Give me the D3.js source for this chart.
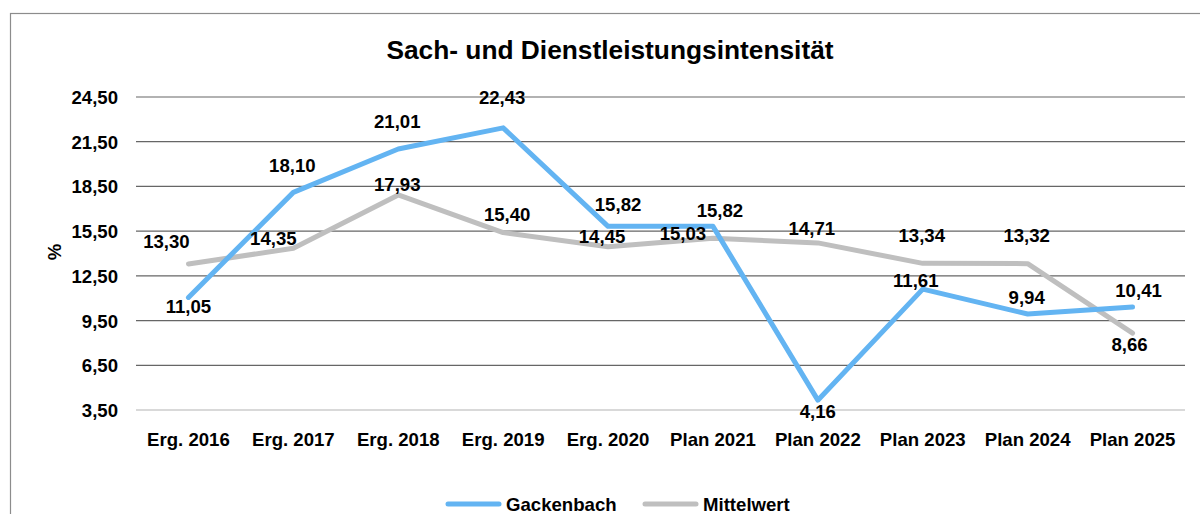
<!DOCTYPE html>
<html>
<head>
<meta charset="utf-8">
<script src="https://cdn.jsdelivr.net/npm/d3@7"></script>
<style>
  body { margin: 0; background: #fff; }
  svg { display: block; font-family: "Liberation Sans", Arial, sans-serif; }
</style>
</head>
<body>
<svg id="chart" width="1200" height="514"></svg>
<script>
const categories = ["Erg. 2016", "Erg. 2017", "Erg. 2018", "Erg. 2019", "Erg. 2020",
                    "Plan 2021", "Plan 2022", "Plan 2023", "Plan 2024", "Plan 2025"]
const gackenbach = [11.05, 18.10, 21.01, 22.43, 15.82, 15.82, 4.16, 11.61, 9.94, 10.41]
const mittelwert = [13.30, 14.35, 17.93, 15.40, 14.45, 15.03, 14.71, 13.34, 13.32, 8.66]
const yTicks = [3.5, 6.5, 9.5, 12.5, 15.5, 18.5, 21.5, 24.5]

// label nudges (px) so they sit like the excel placement
const gOff = [[0, 9], [-1, -27], [-1, -28], [-1, -30], [10, -22], [7, -16], [0, 11], [-7, -9], [-1, -17], [6, -17]]
const mOff = [[-22, -22], [-20, -10], [-1, -10], [4, -18], [-6, -10], [-30, -5], [-6, -14], [-1, -28], [-1, -28], [-3, 11]]

const fs = "18.6px"
const svg = d3.select("#chart")
const fmt = v => d3.format(".2f")(v).replace(".", ",")

const x = d3.scaleBand().domain(categories).range([136, 1185])
const y = d3.scaleLinear().domain([3.5, 24.5]).range([410, 97])
const cx = d => x(d) + x.bandwidth() / 2

// outer frame
svg.append("rect")
  .attr("x", 10.5).attr("y", 13.5).attr("width", 1200).attr("height", 520)
  .attr("fill", "none").attr("stroke", "#8c8c8c").attr("stroke-width", 1.2)

svg.append("text")
  .attr("x", 610).attr("y", 59)
  .attr("text-anchor", "middle")
  .style("font-size", "26.3px").style("font-weight", "bold")
  .text("Sach- und Dienstleistungsintensität")

// grid
svg.append("g").selectAll("line").data(yTicks).join("line")
  .attr("x1", 136).attr("x2", 1185)
  .attr("y1", d => y(d)).attr("y2", d => y(d))
  .attr("stroke", d => d === 3.5 ? "#d9d9d9" : "#666")
  .attr("stroke-width", d => d === 3.5 ? 2.2 : 1.2)

const yAxis = d3.axisLeft(y).tickValues(yTicks).tickFormat(fmt).tickSize(0).tickPadding(0)
svg.append("g").attr("transform", "translate(118,0)").call(yAxis)
  .call(g => g.select(".domain").remove())
  .selectAll("text").attr("fill", "#000").attr("dy", "0.35em")
  .style("font-size", fs).style("font-weight", "bold").style("font-family", "Liberation Sans, Arial")

const xAxis = d3.axisBottom(x).tickSize(0).tickPadding(0)
svg.append("g").attr("transform", "translate(0,433)").call(xAxis)
  .call(g => g.select(".domain").remove())
  .selectAll("text").attr("fill", "#000").attr("dy", "0.71em")
  .style("font-size", fs).style("font-weight", "bold").style("font-family", "Liberation Sans, Arial")

svg.append("text")
  .attr("transform", "translate(61,252) rotate(-90)")
  .attr("text-anchor", "middle")
  .style("font-size", fs).style("font-weight", "bold")
  .text("%")

const series = [
  {name: "Mittelwert", values: mittelwert, color: "#bfbfbf", off: mOff},
  {name: "Gackenbach", values: gackenbach, color: "#63b4f2", off: gOff}
]

const line = d3.line().x((d, i) => cx(categories[i])).y(d => y(d))

series.forEach(s => {
  svg.append("path")
    .attr("d", line(s.values))
    .attr("fill", "none").attr("stroke", s.color).attr("stroke-width", 5)
    .attr("stroke-linecap", "round").attr("stroke-linejoin", "round")
})

series.forEach(s => {
  svg.append("g").selectAll("text").data(s.values).join("text")
    .attr("x", (d, i) => cx(categories[i]) + s.off[i][0])
    .attr("y", (d, i) => y(d) + s.off[i][1])
    .attr("dy", "0.35em")
    .attr("text-anchor", "middle")
    .style("font-size", fs).style("font-weight", "bold")
    .text(d => fmt(d))
})

// legend
const legend = [{name: "Gackenbach", color: "#63b4f2", x: 446}, {name: "Mittelwert", color: "#bfbfbf", x: 643}]
const lg = svg.append("g").selectAll("g").data(legend).join("g")
lg.append("line")
  .attr("x1", d => d.x + 2).attr("x2", d => d.x + 53).attr("y1", 504).attr("y2", 504)
  .attr("stroke", d => d.color).attr("stroke-width", 5).attr("stroke-linecap", "round")
lg.append("text")
  .attr("x", d => d.x + 60).attr("y", 504).attr("dy", "0.35em")
  .style("font-size", fs).style("font-weight", "bold")
  .text(d => d.name)
</script>
</body>
</html>
